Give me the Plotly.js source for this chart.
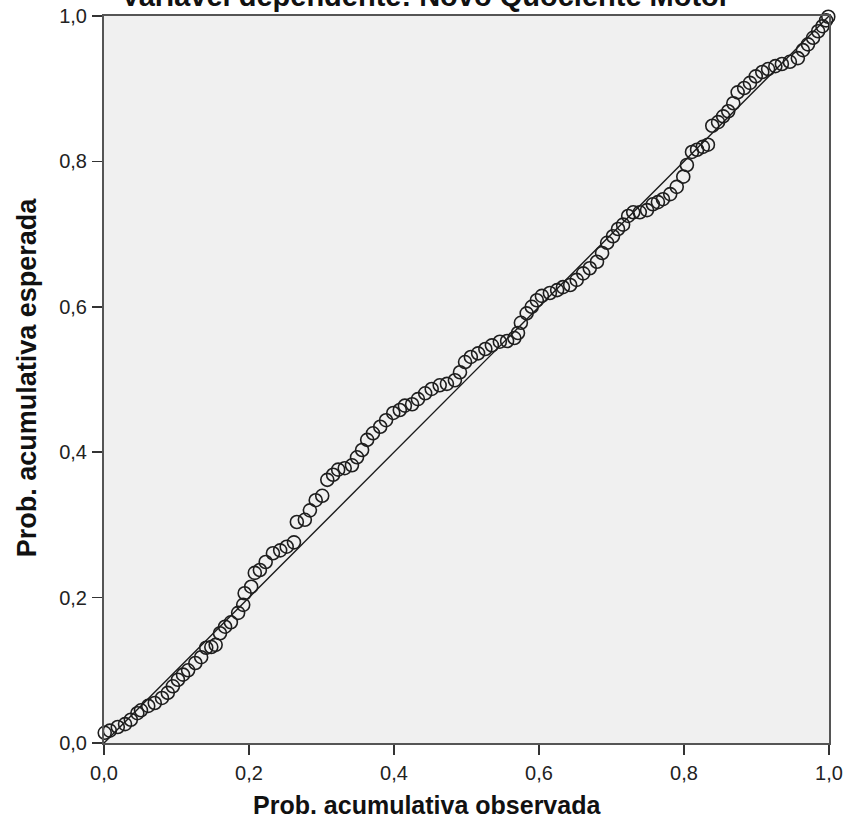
<!DOCTYPE html>
<html>
<head>
<meta charset="utf-8">
<script src="https://cdn.plot.ly/plotly-3.0.1.min.js"></script>
<style>html,body{margin:0;padding:0;background:#fff;}#chart{width:851px;height:832px;}</style>
</head>
<body>
<div id="chart"></div>
<script>
const chartTitle = "Variável dependente: Novo Quociente Motor";
const xTitle = "Prob. acumulativa observada";
const yTitle = "Prob. acumulativa esperada";
const tickVals = [0, 0.2, 0.4, 0.6, 0.8, 1.0];
const tickText = ["0,0", "0,2", "0,4", "0,6", "0,8", "1,0"];

const observed = [
0.001,0.008,0.019,0.029,0.037,0.046,0.051,0.061,0.070,0.080,
0.088,0.095,0.102,0.109,0.116,0.126,0.134,0.141,0.148,0.154,
0.160,0.167,0.175,0.185,0.192,0.194,0.203,0.208,0.215,0.223,
0.233,0.243,0.252,0.262,0.266,0.277,0.284,0.292,0.301,0.308,
0.316,0.323,0.332,0.342,0.349,0.356,0.363,0.371,0.381,0.389,
0.399,0.408,0.415,0.425,0.433,0.443,0.452,0.463,0.473,0.484,
0.491,0.498,0.506,0.516,0.526,0.535,0.546,0.556,0.566,0.571,
0.575,0.583,0.590,0.597,0.604,0.615,0.625,0.633,0.643,0.652,
0.661,0.670,0.680,0.687,0.694,0.702,0.709,0.716,0.723,0.730,
0.739,0.749,0.757,0.764,0.771,0.781,0.790,0.799,0.804,0.811,
0.818,0.826,0.833,0.839,0.847,0.854,0.861,0.868,0.874,0.883,
0.891,0.899,0.908,0.916,0.926,0.935,0.946,0.957,0.964,0.971,
0.978,0.985,0.991,0.996,0.999
];
const expected = [
0.014,0.017,0.022,0.026,0.032,0.041,0.045,0.051,0.055,0.062,
0.069,0.078,0.087,0.094,0.100,0.110,0.118,0.131,0.132,0.135,
0.151,0.160,0.166,0.179,0.190,0.206,0.215,0.234,0.238,0.249,
0.261,0.265,0.270,0.276,0.304,0.307,0.320,0.334,0.340,0.362,
0.369,0.376,0.378,0.382,0.393,0.403,0.417,0.426,0.435,0.444,
0.454,0.458,0.464,0.466,0.473,0.481,0.487,0.492,0.494,0.499,
0.510,0.524,0.531,0.536,0.542,0.547,0.552,0.553,0.557,0.564,
0.578,0.591,0.600,0.609,0.615,0.619,0.623,0.627,0.630,0.637,
0.646,0.653,0.662,0.674,0.688,0.697,0.707,0.713,0.725,0.730,
0.730,0.733,0.741,0.744,0.748,0.755,0.765,0.779,0.795,0.813,
0.816,0.820,0.823,0.849,0.854,0.862,0.869,0.880,0.895,0.901,
0.908,0.917,0.923,0.927,0.931,0.934,0.937,0.942,0.953,0.961,
0.970,0.979,0.986,0.994,0.999
];
const refLineX = [0, 1];
const refLineY = [0, 1];

const traces = [
  {x: refLineX, y: refLineY, mode: "lines", type: "scatter",
   line: {color: "#1a1a1a", width: 1.4}, hoverinfo: "skip", cliponaxis: false},
  {x: observed, y: expected, mode: "markers", type: "scatter",
   marker: {symbol: "circle-open", size: 13, color: "#1e1e1e", line: {width: 1.6, color: "#1e1e1e"}},
   cliponaxis: false}
];

const FONT = "Liberation Sans, Arial, sans-serif";
const axisCommon = {
  range: [0, 1], tickvals: tickVals, ticktext: tickText,
  ticks: "outside", ticklen: 10, tickwidth: 1.6, tickcolor: "#333",
  showline: true, linecolor: "#555", linewidth: 2, mirror: true,
  showgrid: false, zeroline: false, fixedrange: true,
  tickfont: {family: FONT, size: 20, color: "#222"}
};

const layout = {
  width: 851, height: 832,
  margin: {l: 104, r: 22, t: 16, b: 89},
  paper_bgcolor: "#ffffff", plot_bgcolor: "#f0f0f0",
  showlegend: false,
  xaxis: Object.assign({}, axisCommon, {ticklabelstandoff: 1}),
  yaxis: Object.assign({}, axisCommon, {ticklabelstandoff: 1}),
  annotations: [
    {text: "<b>" + chartTitle + "</b>", xref: "paper", yref: "paper", x: (425 - 104) / 725, y: 1,
     xanchor: "center", yanchor: "middle", yshift: 20.5, showarrow: false,
     font: {family: FONT, size: 29, color: "#111"}},
    {text: "<b>" + xTitle + "</b>", xref: "paper", yref: "paper", x: (427 - 104) / 725, y: 0,
     xanchor: "center", yanchor: "middle", yshift: -62, showarrow: false,
     font: {family: FONT, size: 25, color: "#111"}},
    {text: "<b>" + yTitle + "</b>", xref: "paper", yref: "paper", x: 0, y: 0.503,
     xanchor: "center", yanchor: "middle", xshift: -77, textangle: -90, showarrow: false,
     font: {family: FONT, size: 27, color: "#111"}}
  ]
};

Plotly.newPlot("chart", traces, layout, {staticPlot: true, displayModeBar: false});
</script>
</body>
</html>
